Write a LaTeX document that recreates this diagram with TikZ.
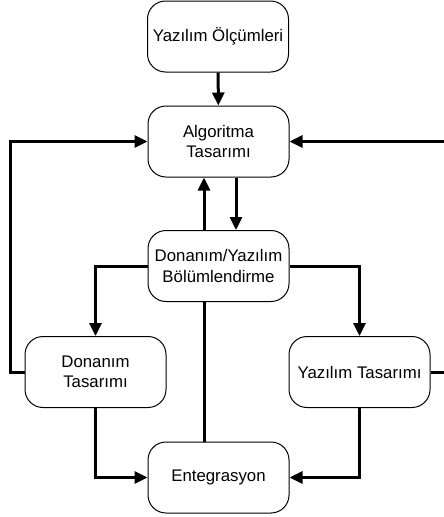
\documentclass[tikz,border=0pt]{standalone}
\usepackage{fontspec}
\setmainfont{Liberation Sans}
\usetikzlibrary{arrows.meta,backgrounds}
\begin{document}
\begin{tikzpicture}[x=1pt,y=-1pt,
  block/.style={draw=black, line width=1pt, fill=white, rounded corners=18pt,
    minimum width=141pt, minimum height=71pt, align=center, inner sep=2pt,
    font=\fontsize{16.8}{20.5}\selectfont},
  flow/.style={line width=3pt, -{Triangle[length=13pt,width=12pt]}}]
\useasboundingbox (0,0) rectangle (444,517);

% process blocks
\node[block] (olc) at (218,36.5)  {Yazılım Ölçümleri};
\node[block] (alg) at (218.5,141.5) {Algoritma\\Tasarımı};
\node[block] (bol) at (218.5,266) {Donanım/Yazılım\\Bölümlendirme};
\node[block] (don) at (95.5,372)  {Donanım\\Tasarımı};
\node[block] (yaz) at (359.5,372) {Yazılım Tasarımı};
\node[block] (ent) at (218.5,477.5) {Entegrasyon};

% feedback corners outside the blocks
\coordinate (lc) at (10,372);
\coordinate (rc) at (447,372);

\begin{scope}[on background layer]
  % integration feeds back to algorithm design, passing behind the partitioning block
  \draw[flow] ([xshift=-14.5pt]ent.north) -- ([xshift=-14.5pt]alg.south);
\end{scope}

\draw[flow] (olc) -- (alg);
\draw[flow] ([xshift=17.5pt]alg.south) -- ([xshift=17.5pt]bol.north);
\draw[flow] (bol.west) -| (don.north);
\draw[flow] (bol.east) -| (yaz.north);
\draw[flow] (don.west) -- (lc) |- (alg.west);
\draw[flow] (yaz.east) -- (rc) |- (alg.east);
\draw[flow] (don.south) |- (ent.west);
\draw[flow] (yaz.south) |- (ent.east);
\end{tikzpicture}
\end{document}
